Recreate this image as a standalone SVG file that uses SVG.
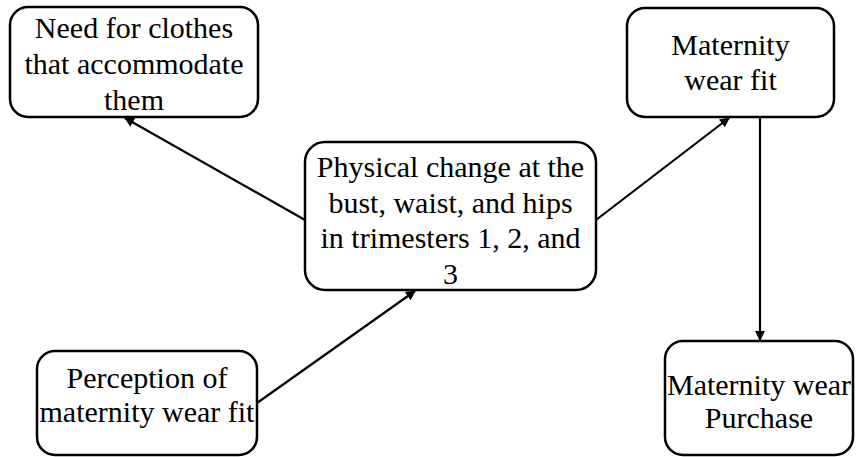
<svg xmlns="http://www.w3.org/2000/svg" width="856" height="457" viewBox="0 0 856 457">
<defs>
<marker id="ah" viewBox="0 0 10 10" refX="9" refY="5" markerWidth="5" markerHeight="4.5" orient="auto" markerUnits="strokeWidth">
<path d="M0,0 L10,5 L0,10 z" fill="#000"/>
</marker>
</defs>
<style>
.box{fill:#fff;stroke:#000;stroke-width:2.5}
.t{font-family:"Liberation Serif","Times New Roman",serif;font-size:30px;fill:#000;text-anchor:middle}
.c{stroke:#000;stroke-width:2.2;fill:none;marker-end:url(#ah)}
</style>
<rect width="856" height="457" fill="#fff"/>
<g id="connectors">
<line class="c" x1="305" y1="220" x2="125" y2="118"/>
<line class="c" x1="257" y1="403" x2="415" y2="291"/>
<line class="c" x1="596" y1="220" x2="729" y2="118"/>
<line class="c" x1="760" y1="117" x2="760" y2="340"/>
</g>
<g id="need">
<rect class="box" x="10" y="7" width="248" height="110" rx="18"/>
<text class="t" x="134" y="38">Need for clothes</text>
<text class="t" x="134" y="74">that accommodate</text>
<text class="t" x="134" y="110">them</text>
</g>
<g id="physical">
<rect class="box" x="305" y="142" width="291" height="148" rx="20"/>
<text class="t" x="450.5" y="177">Physical change at the</text>
<text class="t" x="450.5" y="213">bust, waist, and hips</text>
<text class="t" x="450.5" y="248">in trimesters 1, 2, and</text>
<text class="t" x="450.5" y="284">3</text>
</g>
<g id="fit">
<rect class="box" x="627" y="8" width="207" height="109" rx="18"/>
<text class="t" x="730.5" y="55">Maternity</text>
<text class="t" x="730.5" y="90">wear fit</text>
</g>
<g id="perception">
<rect class="box" x="37" y="351" width="220" height="104" rx="18"/>
<text class="t" x="147" y="388">Perception of</text>
<text class="t" x="147" y="422">maternity wear fit</text>
</g>
<g id="purchase">
<rect class="box" x="665" y="341" width="188" height="114" rx="18"/>
<text class="t" x="759" y="395">Maternity wear</text>
<text class="t" x="759" y="428">Purchase</text>
</g>
</svg>
